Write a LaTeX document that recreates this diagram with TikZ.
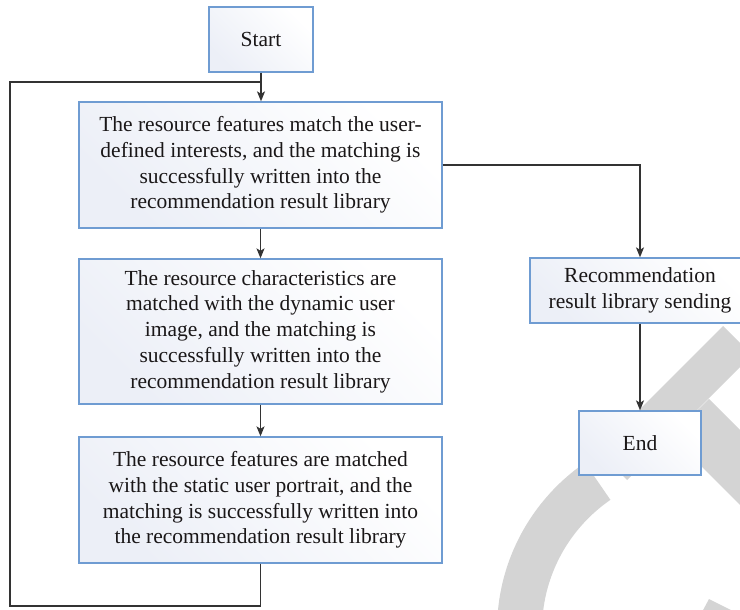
\documentclass[tikz,border=0pt]{standalone}
\usepackage{fontspec}
\setmainfont{Liberation Serif}
\usetikzlibrary{arrows.meta}
\definecolor{edgeblue}{HTML}{6F9CD2}
\definecolor{tint}{HTML}{ECEFF7}
\definecolor{linegray}{HTML}{333333}
\definecolor{wmgray}{HTML}{D4D4D4}
\definecolor{ink}{HTML}{1A1718}
\tikzset{
  flowbox/.style={draw=edgeblue, line width=1.3pt, top color=tint, bottom color=white,
    shading angle=135, inner sep=0pt, align=center, text=ink,
    font=\fontsize{21.5}{25.7}\selectfont},
  link/.style={draw=linegray, line width=1.5pt},
  arrowlink/.style={link, -{Stealth[length=10pt,width=8pt,inset=2.5pt]}},
}
\begin{document}
\begin{tikzpicture}[x=1pt,y=-1pt]
\useasboundingbox (0,0) rectangle (740,610);

% background mark in light gray
\begin{scope}
  \clip (0,0) rectangle (740,610);
  \begin{scope}
    \clip (700,630) -- (530,383) -- (300,383) -- (300,760) -- (700,760) -- cycle;
    \fill[wmgray, even odd rule] (700,630) circle[radius=203] (700,630) circle[radius=158];
  \end{scope}
  \fill[wmgray] (723,326) -- (598,451) -- (627,480) -- (752,355) -- cycle;
  \fill[wmgray] (709,399) -- (870,560) -- (835,600) -- (671,436) -- cycle;
  \fill[wmgray] (709,599) -- (770,629.5) -- (770,650) -- (687,640) -- cycle;
\end{scope}

% process boxes
\node[flowbox, minimum width=104pt, minimum height=65pt] (start) at (261,39.5) {Start};
\node[flowbox, minimum width=363pt, minimum height=126pt] (m1) at (260.5,165)
  {The resource features match the user-\\defined interests, and the matching is\\successfully written into the\\recommendation result library};
\node[flowbox, minimum width=363pt, minimum height=145pt] (m2) at (260.5,331.5)
  {The resource characteristics are\\matched with the dynamic user\\image, and the matching is\\successfully written into the\\recommendation result library};
\node[flowbox, minimum width=363pt, minimum height=126pt] (m3) at (260.5,500)
  {The resource features are matched\\with the static user portrait, and the\\matching is successfully written into\\the recommendation result library};
\node[flowbox, minimum width=220pt, minimum height=65pt] (rec) at (640,290.5)
  {Recommendation\\result library sending};
\node[flowbox, minimum width=122pt, minimum height=64pt] (end) at (640,443) {End};

% connectors
\coordinate (loopdown) at (10,606);
\coordinate (loopup) at (10,82);
\draw[arrowlink] (start.south) -- (start.south |- m1.north);
\draw[arrowlink] (m1.south) -- (m2.north);
\draw[arrowlink] (m2.south) -- (m3.north);
\draw[link] (m3.south) |- (loopdown) -- (loopup) -- (start.south |- loopup);
\draw[arrowlink] (m1.east) -| (rec.north);
\draw[arrowlink] (rec.south) -- (end.north);
\end{tikzpicture}
\end{document}
